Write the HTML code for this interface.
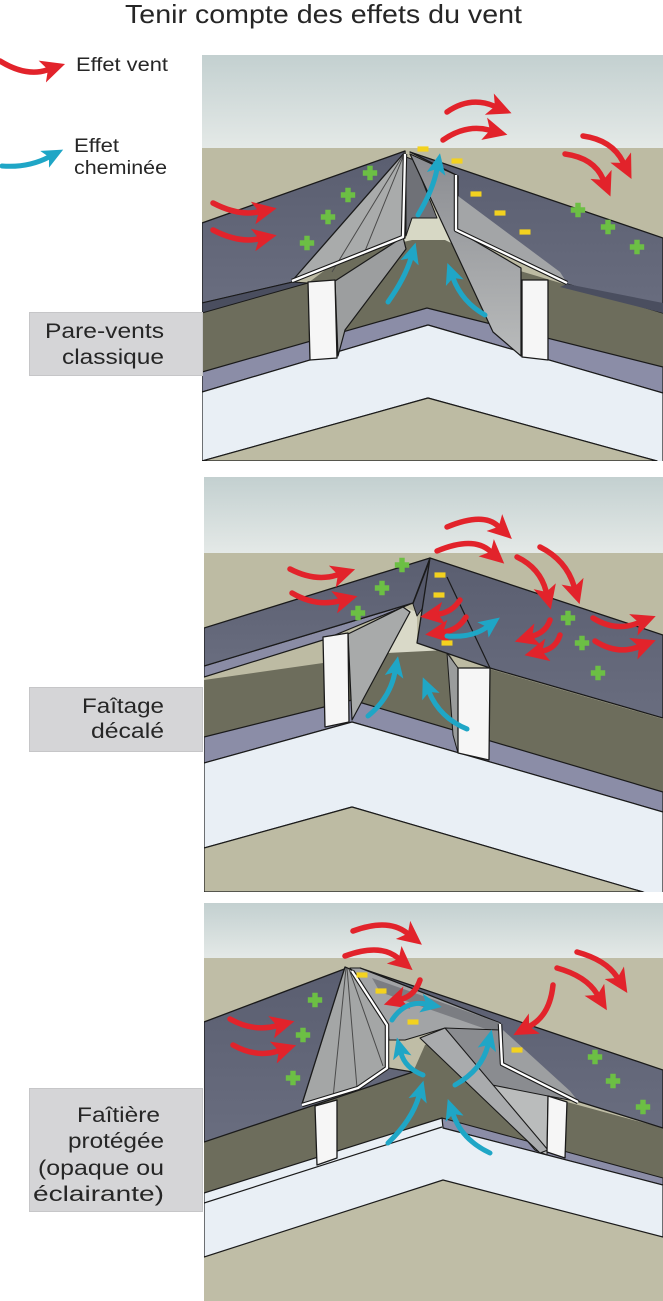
<!DOCTYPE html>
<html><head><meta charset="utf-8">
<style>
html,body{margin:0;padding:0;background:#fff;}
body{width:663px;height:1301px;overflow:hidden;}
svg{display:block;}
text{font-family:"Liberation Sans",Arial,sans-serif;fill:#262626;}
</style></head>
<body>
<svg width="663" height="1301" viewBox="0 0 663 1301" xmlns="http://www.w3.org/2000/svg">
<defs>
<linearGradient id="sky" x1="0" y1="0" x2="0" y2="1"><stop offset="0" stop-color="#c3d0d0"/><stop offset="1" stop-color="#e4e9e7"/></linearGradient>
<linearGradient id="slate" x1="0" y1="0" x2="0" y2="1"><stop offset="0" stop-color="#5a5e70"/><stop offset="1" stop-color="#696d7f"/></linearGradient>
<linearGradient id="grey1" x1="0" y1="0" x2="0" y2="1"><stop offset="0" stop-color="#8a8c91"/><stop offset="1" stop-color="#b9bbbb"/></linearGradient>
<clipPath id="c1"><rect x="202" y="55" width="461" height="406"/></clipPath>
<clipPath id="c2"><rect x="204" y="477" width="459" height="415"/></clipPath>
<clipPath id="c3"><rect x="204" y="903" width="459" height="398"/></clipPath>
<marker id="mr" markerUnits="userSpaceOnUse" markerWidth="25" markerHeight="23" viewBox="0 0 25 23" refX="5" refY="11.5" orient="auto"><path d="M0,0 L24,11.5 L0,23 L6,11.5 Z" fill="#e2232b"/></marker>
<marker id="mc" markerUnits="userSpaceOnUse" markerWidth="21" markerHeight="19" viewBox="0 0 21 19" refX="5" refY="9.5" orient="auto"><path d="M0,0 L21,9.5 L0,19 L5,9.5 Z" fill="#1fa6c6"/></marker>
<path id="pl" d="M-2.7,-7.2h5.4v4.5h4.5v5.4h-4.5v4.5h-5.4v-4.5h-4.5v-5.4h4.5z" fill="#6cbf44"/>
<rect id="ym" x="-5.5" y="-2.6" width="11" height="5.2" fill="#f3d21f"/>
</defs>

<!-- Title -->
<text x="125" y="23" font-size="26" textLength="397" lengthAdjust="spacingAndGlyphs">Tenir compte des effets du vent</text>

<!-- Legend -->
<path d="M0,61 Q26,77 47,70" fill="none" stroke="#e2232b" stroke-width="5.5" stroke-linecap="round" marker-end="url(#mr)"/>
<text x="76" y="71" font-size="19" textLength="92" lengthAdjust="spacingAndGlyphs">Effet vent</text>
<path d="M2,166 Q28,168 49,157" fill="none" stroke="#1fa6c6" stroke-width="5" stroke-linecap="round" marker-end="url(#mc)"/>
<text x="74" y="152" font-size="19" textLength="45" lengthAdjust="spacingAndGlyphs">Effet</text>
<text x="74" y="174" font-size="19" textLength="93" lengthAdjust="spacingAndGlyphs">cheminée</text>

<!-- ================= PANEL 1 ================= -->
<g clip-path="url(#c1)" stroke-linejoin="round">
<rect x="202" y="55" width="461" height="93" fill="url(#sky)"/>
<rect x="202" y="148" width="461" height="313" fill="#bdbba3"/>
<polygon points="405,212 448,212 470,265 380,265" fill="#d7d8c5"/>
<polygon points="202,313 308,283 345,255 412,240 445,240 490,262 567,285 663,313 663,367 427,308 202,372" fill="#6d6d5c"/>
<polygon points="202,372 427,308 663,367 663,393 428,325 202,392" fill="#8b8da7" stroke="#1a1a1a" stroke-width="1.2"/>
<polygon points="202,392 428,325 663,393 663,470 657,461 428,398 202,461" fill="#e9eff5" stroke="#1a1a1a" stroke-width="1.2"/>
<polygon points="202,461 428,398 657,461" fill="#bdbba3" stroke="#1a1a1a" stroke-width="1.2"/>
<!-- roofs -->
<polygon points="202,223 405,151 405,238 293,282 202,303" fill="url(#slate)" stroke="#1a1a1a" stroke-width="1.3"/>
<polygon points="202,303 293,282 308,283 202,313" fill="#4a4e5f" stroke="#1a1a1a" stroke-width="1"/>
<polygon points="410,152 663,238 663,313 567,284 458,230 458,176" fill="url(#slate)" stroke="#1a1a1a" stroke-width="1.3"/>
<polygon points="567,284 663,303 663,313 560,287" fill="#4a4e5f"/>
<!-- inner faces -->
<polygon points="335,281 403,237 406,249 345,330 338,356" fill="#9c9e9f" stroke="#1a1a1a" stroke-width="1.2"/>
<polygon points="406,157 414,160 437,218 412,218 406,236" fill="#6f7177" stroke="#1a1a1a" stroke-width="1"/>
<polygon points="410,154 456,175 456,230 521,268 521,356 493,332" fill="url(#grey1)" stroke="#1a1a1a" stroke-width="1.2"/>
<polygon points="458,196 458,229 567,283 560,272" fill="#a3a5a7"/>
<!-- left screen -->
<polygon points="405,152 292,281 403,237" fill="#a9abab" stroke="#1a1a1a" stroke-width="1.3"/>
<path d="M405,152 L332,272 M405,152 L363,256" stroke="#4a4a4a" stroke-width="1" fill="none"/>
<path d="M292,281 L403,237 L405,154" fill="none" stroke="#1a1a1a" stroke-width="4.5"/>
<path d="M292,281 L403,237 L405,154" fill="none" stroke="#fff" stroke-width="2.3"/>
<path d="M456,175 L456,230 L567,283" fill="none" stroke="#1a1a1a" stroke-width="4.5"/>
<path d="M456,175 L456,230 L567,283" fill="none" stroke="#fff" stroke-width="2.3"/>
<!-- posts -->
<polygon points="308,282 335,280 337,358 310,360" fill="#f6f6f6" stroke="#1a1a1a" stroke-width="1.3"/>
<polygon points="522,280 548,280 548,360 522,357" fill="#f6f6f6" stroke="#1a1a1a" stroke-width="1.3"/>
<!-- arrows -->
<g fill="none" stroke="#e2232b" stroke-width="5.5" stroke-linecap="round">
<path d="M447,112 Q470,96 494,106" marker-end="url(#mr)"/>
<path d="M443,140 Q466,124 489,130" marker-end="url(#mr)"/>
<path d="M583,136 Q612,140 623,162" marker-end="url(#mr)"/>
<path d="M565,154 Q594,158 603,179" marker-end="url(#mr)"/>
<path d="M213,203 Q238,216 258,212" marker-end="url(#mr)"/>
<path d="M213,230 Q238,243 258,239" marker-end="url(#mr)"/>
</g>
<g fill="none" stroke="#1fa6c6" stroke-width="5" stroke-linecap="round">
<path d="M418,215 Q433,190 437,169" marker-end="url(#mc)"/>
<path d="M388,302 Q405,278 411,258" marker-end="url(#mc)"/>
<path d="M485,315 Q462,302 453,278" marker-end="url(#mc)"/>
</g>
<use href="#pl" x="370" y="173"/><use href="#pl" x="348" y="195"/><use href="#pl" x="328" y="217"/><use href="#pl" x="307" y="243"/>
<use href="#pl" x="578" y="210"/><use href="#pl" x="608" y="227"/><use href="#pl" x="637" y="247"/>
<use href="#ym" x="423" y="149"/><use href="#ym" x="457" y="161"/><use href="#ym" x="476" y="194"/><use href="#ym" x="500" y="213"/><use href="#ym" x="525" y="232"/>
</g>
<rect x="29.5" y="312.5" width="173" height="63" fill="#d5d5d7" stroke="#c6c6c8" stroke-width="1"/>
<text x="164" y="338" font-size="21" text-anchor="end" textLength="119" lengthAdjust="spacingAndGlyphs">Pare-vents</text>
<text x="164" y="364" font-size="21" text-anchor="end" textLength="102" lengthAdjust="spacingAndGlyphs">classique</text>

<!-- ================= PANEL 2 ================= -->
<g clip-path="url(#c2)" stroke-linejoin="round">
<rect x="204" y="477" width="459" height="76" fill="url(#sky)"/>
<rect x="204" y="553" width="459" height="339" fill="#bdbba3"/>
<polygon points="403,607 417,612 417,643 447,652 387,654" fill="#d9d9c8"/>
<polygon points="204,680 323,663 387,653 447,650 458,668 490,669 663,719 663,792 352,700 204,737" fill="#6d6d5c"/>
<polygon points="204,737 352,700 663,792 663,812 352,722 204,763" fill="#8b8da7" stroke="#1a1a1a" stroke-width="1.2"/>
<polygon points="204,763 352,722 663,812 663,900 643,892 352,807 204,848" fill="#e9eff5" stroke="#1a1a1a" stroke-width="1.2"/>
<polygon points="204,848 352,807 643,892 204,892" fill="#bdbba3" stroke="#1a1a1a" stroke-width="1.2"/>
<!-- left roof -->
<polygon points="204,666 413,603 352,628 323,640 204,677" fill="#8a8ca5" stroke="#1a1a1a" stroke-width="1.2"/>
<polygon points="204,628 430,558 413,603 204,666" fill="url(#slate)" stroke="#1a1a1a" stroke-width="1.3"/>
<polygon points="413,604 430,560 427,602 417,616" fill="#55586a" stroke="#1a1a1a" stroke-width="1"/>
<!-- left post and screen -->
<polygon points="348,634 403,607 410,612 352,720" fill="#a8aaaa" stroke="#1a1a1a" stroke-width="1.2"/>
<polygon points="323,637 348,633 349,722 325,727" fill="#f6f6f6" stroke="#1a1a1a" stroke-width="1.3"/>
<!-- right roof -->
<polygon points="430,558 663,635 663,718 490,668 417,643" fill="url(#slate)" stroke="#1a1a1a" stroke-width="1.3"/>
<path d="M447,577 L490,668" stroke="#1a1a1a" stroke-width="1.2"/>
<polygon points="447,653 458,668 458,753 453,735" fill="#9a9c9c" stroke="#1a1a1a" stroke-width="1"/>
<polygon points="458,668 490,668 489,760 458,753" fill="#f6f6f6" stroke="#1a1a1a" stroke-width="1.3"/>
<!-- arrows -->
<g fill="none" stroke="#e2232b" stroke-width="5.5" stroke-linecap="round">
<path d="M447,527 Q483,512 498,526" marker-end="url(#mr)"/>
<path d="M437,551 Q473,536 490,551" marker-end="url(#mr)"/>
<path d="M290,569 Q315,582 337,575" marker-end="url(#mr)"/>
<path d="M292,593 Q316,607 339,601" marker-end="url(#mr)"/>
<path d="M517,557 Q540,568 546,591" marker-end="url(#mr)"/>
<path d="M540,547 Q566,560 574,586" marker-end="url(#mr)"/>
<path d="M460,600 Q452,612 439,614" marker-end="url(#mr)"/>
<path d="M466,617 Q458,630 444,632" marker-end="url(#mr)"/>
<path d="M550,620 Q546,632 533,636" marker-end="url(#mr)"/>
<path d="M560,635 Q556,648 543,651" marker-end="url(#mr)"/>
<path d="M593,618 Q615,632 638,623" marker-end="url(#mr)"/>
<path d="M595,641 Q617,655 638,647" marker-end="url(#mr)"/>
</g>
<g fill="none" stroke="#1fa6c6" stroke-width="5" stroke-linecap="round">
<path d="M447,636 Q472,638 487,627" marker-end="url(#mc)"/>
<path d="M368,716 Q390,698 395,672" marker-end="url(#mc)"/>
<path d="M467,729 Q440,718 429,692" marker-end="url(#mc)"/>
</g>
<use href="#pl" x="402" y="565"/><use href="#pl" x="382" y="588"/><use href="#pl" x="358" y="613"/>
<use href="#pl" x="568" y="618"/><use href="#pl" x="582" y="643"/><use href="#pl" x="598" y="673"/>
<use href="#ym" x="440" y="575"/><use href="#ym" x="439" y="595"/><use href="#ym" x="447" y="643"/>
</g>
<rect x="29.5" y="687.5" width="173" height="64" fill="#d5d5d7" stroke="#c6c6c8" stroke-width="1"/>
<text x="164" y="713" font-size="21" text-anchor="end" textLength="82" lengthAdjust="spacingAndGlyphs">Faîtage</text>
<text x="164" y="738" font-size="21" text-anchor="end" textLength="73" lengthAdjust="spacingAndGlyphs">décalé</text>

<!-- ================= PANEL 3 ================= -->
<g clip-path="url(#c3)" stroke-linejoin="round">
<rect x="204" y="903" width="459" height="55" fill="url(#sky)"/>
<rect x="204" y="958" width="459" height="343" fill="#bfbda6"/>
<polygon points="204,1142 413,1072 425,1045 445,1035 547,1152 548,1096 567,1102 663,1128 663,1178 442,1118 204,1193" fill="#6d6d5c"/>
<polygon points="442,1118 663,1178 663,1185 443,1128" fill="#8b8da7" stroke="#1a1a1a" stroke-width="1"/>
<polygon points="204,1193 442,1118 443,1128 663,1185 663,1237 443,1180 204,1257" fill="#e9eff5" stroke="#1a1a1a" stroke-width="1.2"/>
<path d="M204,1203 L442,1127" stroke="#1a1a1a" stroke-width="1.2"/>
<!-- left roof -->
<polygon points="204,1022 347,968 387,1025 388,1068 413,1072 204,1142" fill="url(#slate)" stroke="#1a1a1a" stroke-width="1.3"/>
<!-- right roof -->
<polygon points="360,968 663,1070 663,1128 580,1102 502,1063 500,1023" fill="url(#slate)" stroke="#1a1a1a" stroke-width="1.3"/>
<!-- channel -->
<polygon points="350,968 360,968 500,1023 500,1040 445,1028 405,1040 389,1040 387,1025" fill="#a2a4a6" stroke="#1a1a1a" stroke-width="1.1"/>
<polygon points="372,978 500,1023 500,1034 380,992" fill="#7b7d82"/>
<polygon points="445,1028 500,1030 502,1063 580,1102 548,1096 547,1152 480,1082 445,1040" fill="#8a8c90" stroke="#1a1a1a" stroke-width="1.1"/>
<polygon points="477,1082 548,1096 547,1155 535,1150" fill="#babcbc" stroke="#1a1a1a" stroke-width="1"/>
<polygon points="420,1038 445,1028 548,1150 540,1153" fill="#a9abad" stroke="#1a1a1a" stroke-width="1.1"/>
<!-- left hood -->
<polygon points="345,967 302,1104 358,1088 386,1067 386,1025 352,970" fill="#a4a6a6" stroke="#1a1a1a" stroke-width="1.3"/>
<path d="M346,968 L333,1098 M347,968 L357,1088 M349,969 L383,1066" stroke="#4a4a4a" stroke-width="1" fill="none"/>
<path d="M302,1105 L358,1088 L387,1068 L387,1025 L352,971" fill="none" stroke="#1a1a1a" stroke-width="4.5"/>
<path d="M302,1105 L358,1088 L387,1068 L387,1025 L352,971" fill="none" stroke="#fff" stroke-width="2.3"/>
<polygon points="503,1030 503,1062 578,1101 570,1091" fill="#9d9fa1"/>
<path d="M500,1024 L502,1064 L578,1102" fill="none" stroke="#1a1a1a" stroke-width="4.5"/>
<path d="M500,1024 L502,1064 L578,1102" fill="none" stroke="#fff" stroke-width="2.3"/>
<!-- posts -->
<polygon points="315,1106 337,1100 337,1158 317,1165" fill="#f6f6f6" stroke="#1a1a1a" stroke-width="1.3"/>
<polygon points="548,1096 567,1102 565,1158 547,1152" fill="#f6f6f6" stroke="#1a1a1a" stroke-width="1.3"/>
<!-- arrows -->
<g fill="none" stroke="#e2232b" stroke-width="5.5" stroke-linecap="round">
<path d="M353,931 Q388,918 407,933" marker-end="url(#mr)"/>
<path d="M345,956 Q380,943 398,958" marker-end="url(#mr)"/>
<path d="M577,952 Q606,960 617,977" marker-end="url(#mr)"/>
<path d="M557,968 Q586,976 597,994" marker-end="url(#mr)"/>
<path d="M553,985 Q550,1015 530,1026" marker-end="url(#mr)"/>
<path d="M420,980 Q415,995 402,999" marker-end="url(#mr)"/>
<path d="M230,1019 Q253,1032 276,1026" marker-end="url(#mr)"/>
<path d="M233,1045 Q256,1058 278,1051" marker-end="url(#mr)"/>
</g>
<g fill="none" stroke="#1fa6c6" stroke-width="5" stroke-linecap="round">
<path d="M392,1020 Q405,1000 426,1004" marker-end="url(#mc)"/>
<path d="M423,1075 Q405,1068 401,1053" marker-end="url(#mc)"/>
<path d="M455,1085 Q482,1070 488,1045" marker-end="url(#mc)"/>
<path d="M388,1143 Q412,1120 419,1096" marker-end="url(#mc)"/>
<path d="M490,1153 Q462,1140 453,1114" marker-end="url(#mc)"/>
</g>
<use href="#pl" x="315" y="1000"/><use href="#pl" x="303" y="1035"/><use href="#pl" x="293" y="1078"/>
<use href="#pl" x="595" y="1057"/><use href="#pl" x="613" y="1081"/><use href="#pl" x="643" y="1107"/>
<use href="#ym" x="362" y="975"/><use href="#ym" x="381" y="991"/><use href="#ym" x="413" y="1022"/><use href="#ym" x="517" y="1050"/>
</g>
<rect x="29.5" y="1088.5" width="173" height="123" fill="#d5d5d7" stroke="#c6c6c8" stroke-width="1"/>
<text x="160" y="1122" font-size="21" text-anchor="end" textLength="83" lengthAdjust="spacingAndGlyphs">Faîtière</text>
<text x="164" y="1148" font-size="21" text-anchor="end" textLength="96" lengthAdjust="spacingAndGlyphs">protégée</text>
<text x="164" y="1175" font-size="21" text-anchor="end" textLength="126" lengthAdjust="spacingAndGlyphs">(opaque ou</text>
<text x="164" y="1201" font-size="21" text-anchor="end" textLength="131" lengthAdjust="spacingAndGlyphs">éclairante)</text>
</svg>
</body></html>
